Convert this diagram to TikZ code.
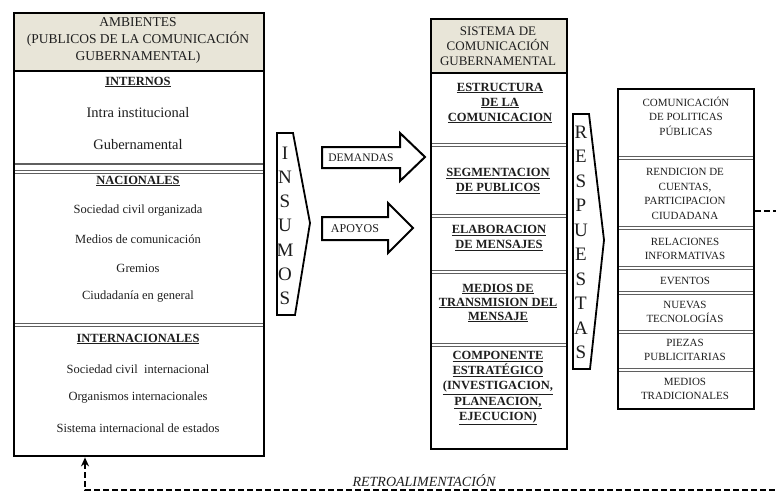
\documentclass[tikz,border=0pt]{standalone}
\usepackage{fontspec}
\setmainfont{Liberation Serif}
\usetikzlibrary{arrows.meta}
\definecolor{hdrfill}{RGB}{232,229,216}
\definecolor{ink}{RGB}{30,30,30}
\definecolor{rulegray}{RGB}{95,95,95}
\newcommand{\fsz}[2]{\fontsize{#1}{#2}\selectfont}
\newcommand{\ulb}[1]{\textbf{\underline{#1}}}
% a divider made of two close grey rules: \divider{x1}{x2}{y}
\newcommand{\divider}[3]{%
  \draw[sepline] (#1,#3-1.1) -- (#2,#3-1.1);
  \draw[sepline] (#1,#3+1.1) -- (#2,#3+1.1);}

\begin{document}
\begin{tikzpicture}[x=1pt,y=-1pt,
  frame/.style={draw=black, line width=2.4pt, inner sep=0pt, anchor=north west},
  sepline/.style={draw=rulegray, line width=1pt},
  txt/.style={text=ink, align=center, inner sep=0pt},
  blockarrow/.style={draw=black, line width=2pt, line join=miter, fill=white},
  tag/.style={draw=black, line width=1.8pt, line join=miter, fill=white},
  feedback/.style={draw=black, line width=1.8pt, dash pattern=on 6pt off 3pt}]
\useasboundingbox (0,0) rectangle (776,492);
\clip (0,0) rectangle (776,492);
\fill[white] (0,0) rectangle (776,492);

% ---------- environments (audiences) ----------
\node[frame, fill=hdrfill, minimum width=250pt, minimum height=58pt] (ambhead) at (13,12) {};
\draw[sepline, line width=1.3pt] (13,164) -- (263,164);
\divider{13}{263}{172}
\divider{13}{263}{325}
\node[frame, minimum width=250pt, minimum height=443pt] (amb) at (13,12) {};
\node[txt, font=\fsz{13.5}{17}] (ambtitle) at (138,40)
  {AMBIENTES\\(PUBLICOS DE LA COMUNICACIÓN\\GUBERNAMENTAL)};

\node[txt, font=\fsz{12.5}{15}] (internos) at (138,82) {\ulb{INTERNOS}};
\node[txt, font=\fsz{14.5}{17}] (intra) at (138,113) {Intra institucional};
\node[txt, font=\fsz{14.5}{17}] (guber) at (138,145) {Gubernamental};

\node[txt, font=\fsz{12.5}{15}] (nacionales) at (138,181) {\ulb{NACIONALES}};
\node[txt, font=\fsz{12.5}{15}] (socorg) at (138,211) {Sociedad civil organizada};
\node[txt, font=\fsz{12.5}{15}] (medcom) at (138,239) {Medios de comunicación};
\node[txt, font=\fsz{12.5}{15}] (gremios) at (138,268) {Gremios};
\node[txt, font=\fsz{12.5}{15}] (ciudad) at (138,297) {Ciudadanía en general};

\node[txt, font=\fsz{12.5}{15}] (internac) at (138,339) {\ulb{INTERNACIONALES}};
\node[txt, font=\fsz{12.5}{15}] (socint) at (138,369) {Sociedad civil\ \ internacional};
\node[txt, font=\fsz{12.5}{15}] (orgint) at (138,398) {Organismos internacionales};
\node[txt, font=\fsz{12.5}{15}] (sisint) at (138,428) {Sistema internacional de estados};

% ---------- inputs ----------
\draw[tag] (277,133) -- (293,133) -- (310,223) -- (295,315) -- (277,315) -- cycle;
\foreach \ch [count=\i from 0] in {I,N,S,U,M,O,S}
  \node[txt, font=\fsz{19}{22}] (insumos\i) at (285,{153+24.2*\i}) {\ch};

\draw[blockarrow] (322,147) -- (400,147) -- (400,133) -- (425,157) -- (400,181) -- (400,168) -- (322,168) -- cycle;
\node[txt, font=\fsz{11.5}{14}] (demandas) at (361,157.5) {DEMANDAS};
\draw[blockarrow] (322,217) -- (388,217) -- (388,203) -- (413,228) -- (388,253) -- (388,240) -- (322,240) -- cycle;
\node[txt, font=\fsz{12}{14}] (apoyos) at (355,228.5) {APOYOS};

% ---------- communication system ----------
\node[frame, fill=hdrfill, minimum width=136pt, minimum height=54pt] (sishead) at (430,18) {};
\foreach \yy in {145,216,272,345}
  {\divider{430}{566}{\yy}}
\node[frame, minimum width=136pt, minimum height=430pt] (sis) at (430,18) {};
\node[txt, font=\fsz{13}{15}] (sistitle) at (498,46)
  {SISTEMA DE\\COMUNICACIÓN\\GUBERNAMENTAL};
\node[txt, font=\fsz{12.5}{15}] (estructura) at (500,103)
  {\ulb{ESTRUCTURA}\\\ulb{DE LA}\\\ulb{COMUNICACION}};
\node[txt, font=\fsz{12.5}{15.5}] (segment) at (498,181)
  {\ulb{SEGMENTACION}\\\ulb{DE PUBLICOS}};
\node[txt, font=\fsz{12.5}{15}] (elabora) at (499,238)
  {\ulb{ELABORACION}\\\ulb{DE MENSAJES}};
\node[txt, font=\fsz{12.5}{14}] (medios) at (498,303)
  {\ulb{MEDIOS DE}\\\ulb{TRANSMISION DEL}\\\ulb{MENSAJE}};
\node[txt, font=\fsz{12.5}{15.3}] (componente) at (498,388)
  {\ulb{COMPONENTE}\\\ulb{ESTRATÉGICO}\\\ulb{(INVESTIGACION,}\\\ulb{PLANEACION,}\\\ulb{EJECUCION)}};

% ---------- responses ----------
\draw[tag] (573,114) -- (589,114) -- (604,240) -- (590,369) -- (573,369) -- cycle;
\foreach \ch [count=\i from 0] in {R,E,S,P,U,E,S,T,A,S}
  \node[txt, font=\fsz{19}{22}] (respuestas\i) at (581,{132+24.5*\i}) {\ch};

\foreach \yy in {158,228,268,293,332,370}
  {\divider{617}{753}{\yy}}
\node[frame, minimum width=136pt, minimum height=320pt] (resp) at (617,88) {};
\node[txt, font=\fsz{11}{14.5}] (politicas) at (686,116)
  {COMUNICACIÓN\\DE POLITICAS\\PÚBLICAS};
\node[txt, font=\fsz{11}{14.7}] (rendicion) at (685,194)
  {RENDICION DE\\CUENTAS,\\PARTICIPACION\\CIUDADANA};
\node[txt, font=\fsz{11}{14}] (relaciones) at (685,249) {RELACIONES\\INFORMATIVAS};
\node[txt, font=\fsz{11}{14}] (eventos) at (685,280.5) {EVENTOS};
\node[txt, font=\fsz{11}{14}] (nuevas) at (685,312) {NUEVAS\\TECNOLOGÍAS};
\node[txt, font=\fsz{11}{14}] (piezas) at (685,350) {PIEZAS\\PUBLICITARIAS};
\node[txt, font=\fsz{11}{14}] (tradic) at (685,389) {MEDIOS\\TRADICIONALES};

% ---------- feedback loop ----------
\coordinate (fbout) at (resp.east |- 0,211);
\coordinate (fbin) at (amb.south west -| 85,0);
\draw[feedback, -{Stealth[length=9pt,width=8pt]}]
  (fbout) -- (792,211) -- (792,490) -- (85,490) -- (fbin);
\node[txt, font=\itshape\fsz{14}{16}] (retro) at (424,481) {RETROALIMENTACIÓN};
\end{tikzpicture}
\end{document}
